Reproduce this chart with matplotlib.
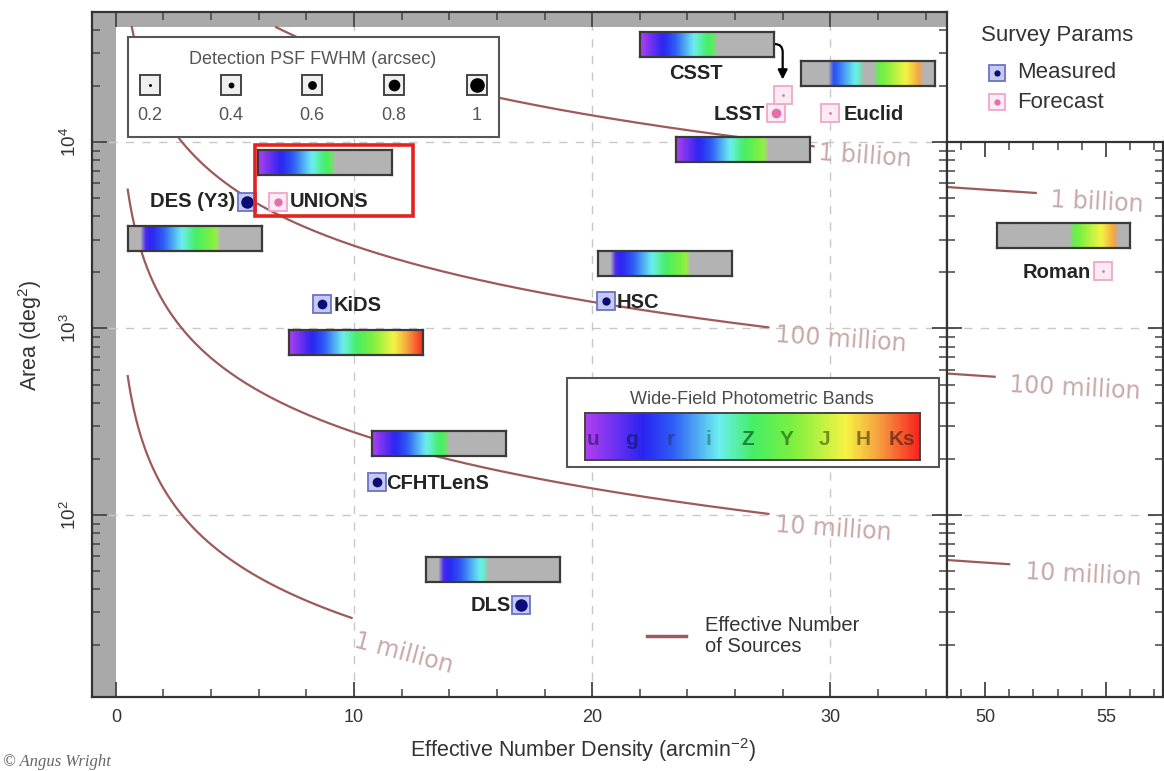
import numpy as np
import matplotlib.pyplot as plt
from matplotlib.colors import LinearSegmentedColormap, to_rgb
from matplotlib.patches import Rectangle
from matplotlib.ticker import NullFormatter

plt.rcParams['font.family'] = ['Liberation Sans', 'DejaVu Sans']
plt.rcParams['mathtext.fontset'] = 'custom'
plt.rcParams['mathtext.rm'] = 'Liberation Sans'
plt.rcParams['mathtext.it'] = 'Liberation Sans:italic'
plt.rcParams['mathtext.bf'] = 'Liberation Sans:bold'

W, H = 1164, 771

# ---- data ----
names = ['DES (Y3)', 'UNIONS', 'KiDS', 'HSC', 'CFHTLenS', 'DLS', 'LSST', 'CSST', 'Euclid', 'Roman']
n_eff = [5.5, 6.8, 8.65, 20.6, 10.95, 17.0, 27.7, 28.0, 30.0, 54.9]
area = [4770, 4770, 1345, 1400, 150, 33, 14300, 17900, 14300, 2030]
psf = [0.9, 0.6, 0.7, 0.6, 0.7, 0.9, 0.7, 0.2, 0.2, 0.2]
forecast = [False, True, False, False, False, False, True, True, True, True]

bands = ['u', 'g', 'r', 'i', 'Z', 'Y', 'J', 'H', 'Ks']
coverage = [
    ['g', 'r', 'i', 'Z', 'Y'],
    ['u', 'g', 'r', 'i', 'Z'],
    ['u', 'g', 'r', 'i', 'Z', 'Y', 'J', 'H', 'Ks'],
    ['g', 'r', 'i', 'Z', 'Y'],
    ['u', 'g', 'r', 'i', 'Z'],
    ['g', 'r', 'i'],
    ['u', 'g', 'r', 'i', 'Z', 'Y'],
    ['u', 'g', 'r', 'i', 'Z'],
    ['r', 'i', 'Y', 'J', 'H'],
    ['Y', 'J', 'H'],
]
# band strip placement (left edge in n_eff, centre in area)
bar_x0 = [0.5, 5.97, 7.27, 20.25, 10.76, 13.03, 23.53, 22.02, 28.78, 50.5]
bar_y = [3055, 7715, 841, 2218, 243, 51.3, 9060, 33500, 23200, 3133]

# effective number of sources contours
n_levels = [1e6, 1e7, 1e8, 1e9]
level_names = ['1 million', '10 million', '100 million', '1 billion']
main_end = [9.9, 27.4, 27.4, 29.3]
right_end = [None, 51.0, 50.4, 52.1]

full_sky = 41253
psf_legend = [0.2, 0.4, 0.6, 0.8, 1]

# ---- layout ----
def fig_box(x0, y0, x1, y1):
    return [x0 / W, 1 - y1 / H, (x1 - x0) / W, (y1 - y0) / H]

band_cmap = LinearSegmentedColormap.from_list('bands', [
    (0.0, '#b040f0'), (0.17, '#2a24f2'), (0.26, '#2e5cf6'), (0.4, '#6cf0f0'),
    (0.5, '#46ee66'), (0.62, '#7cf040'), (0.78, '#f6f444'), (0.88, '#f6a040'),
    (1.0, '#fa2420')])
bar_gray = to_rgb('#b4b4b4')

def band_strip(cov, res=180, k=7):
    t = (np.arange(res) + 0.5) / res
    rgb = band_cmap(t)[:, :3]
    slot = np.minimum((t * 9).astype(int), 8)
    mask = np.isin(slot, [bands.index(b) for b in cov])
    rgb[~mask] = bar_gray
    pad = np.pad(rgb, ((k // 2, k // 2), (0, 0)), mode='edge')
    sm = np.stack([np.convolve(pad[:, c], np.ones(k) / k, mode='valid') for c in range(3)], axis=1)
    return sm[None, :, :]

def style_frame(a, lw=1.5, color='#333333'):
    a.set_xticks([])
    a.set_yticks([])
    for s in a.spines.values():
        s.set_linewidth(lw)
        s.set_color(color)

fig = plt.figure(figsize=(W / 100, H / 100), dpi=100)
ax = fig.add_axes(fig_box(92, 12, 947, 697))
axr = fig.add_axes(fig_box(947, 142, 1163, 697))

for a in (ax, axr):
    a.set_yscale('log')

ax.axvspan(-1.0, 0, color='#a9a9a9', lw=0, zorder=0)
ax.axhspan(full_sky, 1e5, color='#a9a9a9', lw=0, zorder=0)
ax.set_xlim(-1.0, 34.9)
ax.set_ylim(10 ** 1.024, 10 ** 4.697)
axr.set_xlim(48.43, 57.36)
axr.set_ylim(10 ** 1.024, 1e4)

grid_kw = dict(color='#c8c8c8', lw=1.0, ls=(0, (6, 6)), zorder=1)
for xv in [10, 20, 30]:
    ax.axvline(xv, **grid_kw)
for yv in [1e2, 1e3, 1e4]:
    ax.axhline(yv, **grid_kw)
for yv in [1e2, 1e3]:
    axr.axhline(yv, **grid_kw)

for a in (ax, axr):
    a.tick_params(which='both', direction='in', top=True, right=True, color='#444444',
                  labelcolor='#333333', labelsize=13)
    a.tick_params(which='major', length=11, width=1.3, pad=9)
    a.tick_params(which='minor', length=5.5, width=1.1)
    a.yaxis.set_minor_formatter(NullFormatter())
    for s in a.spines.values():
        s.set_color('#333333')
        s.set_linewidth(1.6)

ax.set_xticks([0, 10, 20, 30])
ax.set_xticks(np.arange(0, 35, 2), minor=True)
ax.set_yticks([1e2, 1e3, 1e4])
ax.set_yticklabels(['$10^{2}$', '$10^{3}$', '$10^{4}$'], rotation=90, va='center', fontsize=13.5)
axr.set_xticks([50, 55])
axr.set_xticks(np.arange(49, 58), minor=True)
axr.set_yticks([1e2, 1e3, 1e4])
axr.tick_params(labelleft=False)

# contour curves (kept below the full-sky limit)
curve_col = '#9e5a5a'
lab_col = '#c8a8a8'
for N, end in zip(n_levels, main_end):
    n = np.linspace(max(0.5, N / (3600 * full_sky)), end, 400)
    ax.plot(n, N / (3600 * n), color=curve_col, lw=1.6, zorder=2)
for N, end in zip(n_levels, right_end):
    if end is None:
        continue
    n = np.linspace(48.43, end, 50)
    axr.plot(n, N / (3600 * n), color=curve_col, lw=1.6, zorder=2)

main_lab = [(10.04, 21.4, -15), (27.7, 88, -4), (27.7, 917, -4), (29.5, 8730, -4)]
for txt, (x, y, rot) in zip(level_names, main_lab):
    ax.text(x, y, txt, color=lab_col, fontsize=17, family=['DejaVu Sans'], rotation=rot,
            rotation_mode='anchor', ha='left', va='center', zorder=3)
right_lab = [None, (51.65, 49.5, -3), (51.0, 495, -3), (52.7, 4890, -3)]
for txt, pos in zip(level_names, right_lab):
    if pos is None:
        continue
    axr.text(pos[0], pos[1], txt, color=lab_col, fontsize=17, family=['DejaVu Sans'],
             rotation=pos[2], rotation_mode='anchor', ha='left', va='center', zorder=3)

# band strips
half = 10 ** (12.5 / 186.5)
for i in range(len(names)):
    a = axr if n_eff[i] > 40 else ax
    w = 5.5 if a is axr else 5.63
    yc = bar_y[i]
    ins = a.inset_axes([bar_x0[i], yc / half, w, yc * half - yc / half], transform=a.transData)
    ins.imshow(band_strip(coverage[i]), aspect='auto', extent=[0, 1, 0, 1], interpolation='bilinear')
    style_frame(ins, 1.6, '#3a3a3a')

# survey markers
meas = dict(fc='#c6c9f0', ec='#6a72c8', dot='#0c0c78')
fore = dict(fc='#fdebf4', ec='#eea8cc', dot='#e56fa8')
lab_dx = [-12, 12, 12, 10, 10, -10, -11, -87, 13, -13]
lab_dy = [0, 0, -1, -1, -1, -1, -1, 21, -1, -1]
lab_ha = ['right', 'left', 'left', 'left', 'left', 'right', 'right', 'center', 'left', 'right']
for i in range(len(names)):
    a = axr if n_eff[i] > 40 else ax
    st = fore if forecast[i] else meas
    a.plot(n_eff[i], area[i], 's', ms=13, mfc=st['fc'], mec=st['ec'], mew=1.3, zorder=6)
    a.plot(n_eff[i], area[i], 'o', ms=psf[i] * 10, color=st['dot'], mew=0, zorder=7)
    a.annotate(names[i], (n_eff[i], area[i]), xytext=(lab_dx[i] * 0.72, lab_dy[i] * 0.72),
               textcoords='offset points', ha=lab_ha[i], va='center', fontsize=14.5,
               weight='bold', color='#242424', zorder=8)

# CSST arrow from its strip to its point
ci = names.index('CSST')
ax.annotate('', xy=(n_eff[ci], area[ci]), xytext=(bar_x0[ci] + 5.63, bar_y[ci]),
            arrowprops=dict(arrowstyle='-|>', mutation_scale=14,
                            connectionstyle='angle,angleA=0,angleB=90,rad=8',
                            color='black', lw=1.6, shrinkA=0, shrinkB=11), zorder=4)

# ---- overlay for legends / highlights (pixel coordinates) ----
deco = fig.add_axes([0, 0, 1, 1])
deco.set_xlim(0, W)
deco.set_ylim(H, 0)
deco.axis('off')

# PSF legend
deco.add_patch(Rectangle((128, 37), 371, 100, fc='white', ec='#555555', lw=1.5))
deco.text(313, 60, 'Detection PSF FWHM (arcsec)', ha='center', va='center', fontsize=13, color='#555555')
for v, x in zip(psf_legend, [150, 231, 312, 394, 477]):
    deco.plot(x, 85, 's', ms=15, mfc='#efefef', mec='#444444', mew=1.4)
    deco.plot(x, 85, 'o', ms=v * 10.5, color='black', mew=0)
    deco.text(x, 115, f'{v:g}', ha='center', va='center', fontsize=13, color='#555555')

# band legend
deco.add_patch(Rectangle((567, 378), 372, 89, fc='white', ec='#555555', lw=1.5))
deco.text(752, 400, 'Wide-Field Photometric Bands', ha='center', va='center', fontsize=13, color='#4a4a4a')
cb = fig.add_axes(fig_box(585, 413, 920, 460))
cb.imshow(band_cmap(np.linspace(0, 1, 300))[None, :, :3], aspect='auto', extent=[0, 1, 0, 1])
style_frame(cb, 1.4, '#444444')
letter_cols = ['#4a1a8a', '#1a1a8a', '#2a3aa0', '#2a8a8a', '#126a30', '#2a7a1a', '#5a7a10', '#6a5a10', '#702818']
for k, (b, c) in enumerate(zip(bands, letter_cols)):
    cb.text(0.024 + 0.1153 * k, 0.43, b, transform=cb.transAxes, ha='center', va='center',
            fontsize=15, color=c, alpha=0.8, weight='bold')

# survey params legend
deco.text(1057, 36, 'Survey Params', ha='center', va='center', fontsize=16, color='#333333')
for y, st, txt in [(73, meas, 'Measured'), (102, fore, 'Forecast')]:
    deco.plot(997, y, 's', ms=11, mfc=st['fc'], mec=st['ec'], mew=1.3)
    deco.plot(997, y, 'o', ms=4.5, color=st['dot'], mew=0)
    deco.text(1017, y, txt, ha='left', va='center', fontsize=16, color='#333333')

# effective number legend
deco.plot([647, 686], [636, 636], color=curve_col, lw=2.5)
deco.text(705, 636, 'Effective Number\nof Sources', ha='left', va='center', fontsize=14.5,
          color='#333333', linespacing=1.15)

# UNIONS highlight
deco.add_patch(Rectangle((255, 145), 158, 71, fill=False, ec='#e4231d', lw=2.6))

# axis labels
deco.text(583, 750, 'Effective Number Density (arcmin$^{-2}$)', ha='center', va='center',
          fontsize=15.5, color='#333333')
deco.text(30, 335, 'Area (deg$^{2}$)', ha='center', va='center', rotation=90,
          fontsize=15.5, color='#333333')
deco.text(3, 762, '\u00a9 Angus Wright', ha='left', va='center', fontsize=12, style='italic',
          family=['Liberation Serif', 'DejaVu Serif'], color='#666666')

fig.savefig('out.png', dpi=100)
